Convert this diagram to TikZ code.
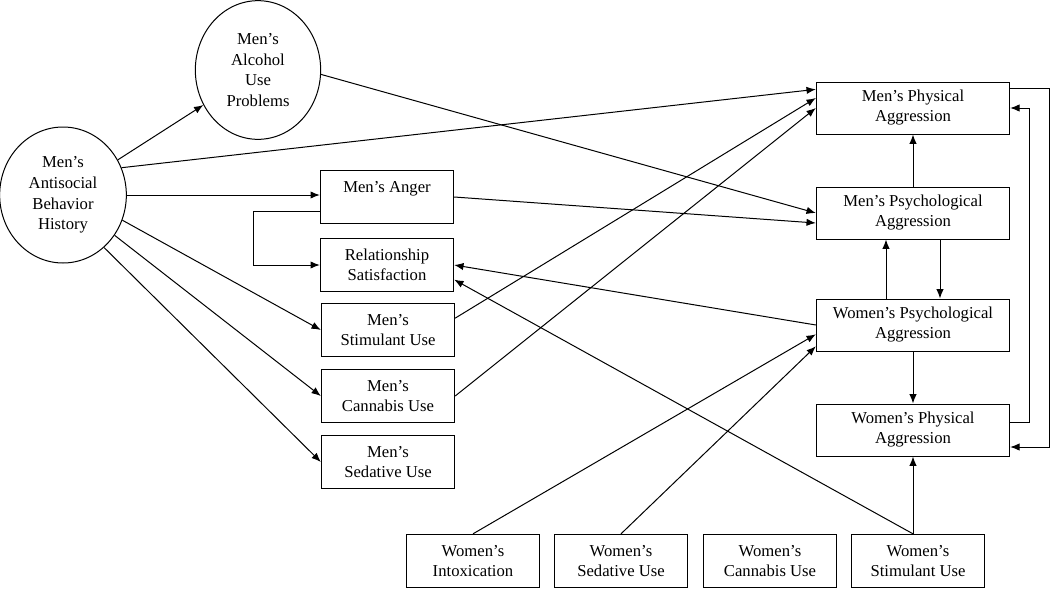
\documentclass[tikz,border=0pt]{standalone}
\usepackage{fontspec}
\setmainfont{Liberation Serif}
\usetikzlibrary{shapes.geometric,arrows.meta}

\begin{document}
\begin{tikzpicture}[>={Latex[length=7pt,width=5.5pt]},x=0.75pt,y=-0.75pt,line width=0.75pt,
  box/.style={draw,rectangle,align=center,inner sep=2pt,minimum width=100pt,minimum height=40pt,font=\fontsize{12.5}{15}\selectfont},
  wbox/.style={box,minimum width=145pt,minimum height=39pt},
  kreis/.style={draw,ellipse,align=center,inner sep=0pt,font=\fontsize{12.5}{15.5}\selectfont}]

\useasboundingbox (0,0) rectangle (1050,589);

% Kreise links
\node[kreis,minimum width=95pt,minimum height=102pt] (anti) at (63,195) {Men's\\Antisocial\\Behavior\\History};
\node[kreis,minimum width=94pt,minimum height=104pt] (alc) at (258,70) {Men's\\Alcohol\\Use\\Problems};

% Spalte Mitte
\node[box] (anger) at (387,197) {Men's Anger\\~};
\node[box] (rels) at (387,265) {Relationship\\Satisfaction};
\node[box] (stimm) at (388,330) {Men's\\Stimulant Use};
\node[box] (cannm) at (388,396) {Men's\\Cannabis Use};
\node[box] (sedm) at (388,462) {Men's\\Sedative Use};

% Spalte rechts
\node[wbox] (mphys) at (913,108) {Men's Physical\\Aggression};
\node[wbox] (mpsy) at (913,213) {Men's Psychological\\Aggression};
\node[wbox] (wpsy) at (913,325) {Women's Psychological\\Aggression};
\node[wbox] (wphys) at (913,430) {Women's Physical\\Aggression};

% Zeile unten
\node[box] (intox) at (473,561) {Women's\\Intoxication};
\node[box] (sedw) at (621,561) {Women's\\Sedative Use};
\node[box] (cannw) at (770,561) {Women's\\Cannabis Use};
\node[box] (stimw) at (918,561) {Women's\\Stimulant Use};
\coordinate (sw) at (stimw.north -| wphys.south);

% Pfeile vom Antisocial-Kreis
\draw[->] (anti) -- (alc);
\draw[->] (anti.25) -- ([yshift=14pt]mphys.west);
\draw[->] (anti.east) -- (anti.east -| anger.west);
\draw[->] (anti.-23) -- (stimm.west);
\draw[->] (anti.-38) -- (cannm.west);
\draw[->] (anti.-52) -- (sedm.west);

% Pfeile zur Aggression der Maenner
\draw[->] (alc.-4) -- (mpsy.west);
\draw[->] (anger.east) -- ([yshift=-7.5pt]mpsy.west);
\draw[->] (stimm.10) -- ([yshift=7.5pt]mphys.west);
\draw[->] (cannm.east) -- (mphys.west);
\draw[->] ([yshift=-10.5pt]anger.west) -- ++(-66,0) |- (rels.west);

% Pfeile zur Zufriedenheit
\draw[->] (wpsy.west) -- (rels.east);
\draw[->] (sw) -- ([yshift=-11pt]rels.east);

% Pfeile von unten
\draw[->] (intox.north) -- ([yshift=-7pt]wpsy.west);
\draw[->] (sedw.north) -- ([yshift=-16pt]wpsy.west);
\draw[->] (sw) -- (wphys.south);

% rechte Spalte senkrecht
\draw[->] (mpsy) -- (mphys);
\draw[->] ([xshift=-20.25pt]wpsy.north) -- ([xshift=-20.25pt]mpsy.south);
\draw[->] ([xshift=20.25pt]mpsy.south) -- ([xshift=20.25pt]wpsy.north);
\draw[->] (wpsy) -- (wphys);

% Rueckkopplung rechts
\draw[->] ([yshift=15pt]mphys.east) -- ++(39,0) |- ([yshift=-12.75pt]wphys.east);
\draw[->] ([yshift=6pt]wphys.east) -- ++(19,0) |- (mphys.east);

\end{tikzpicture}
\end{document}
